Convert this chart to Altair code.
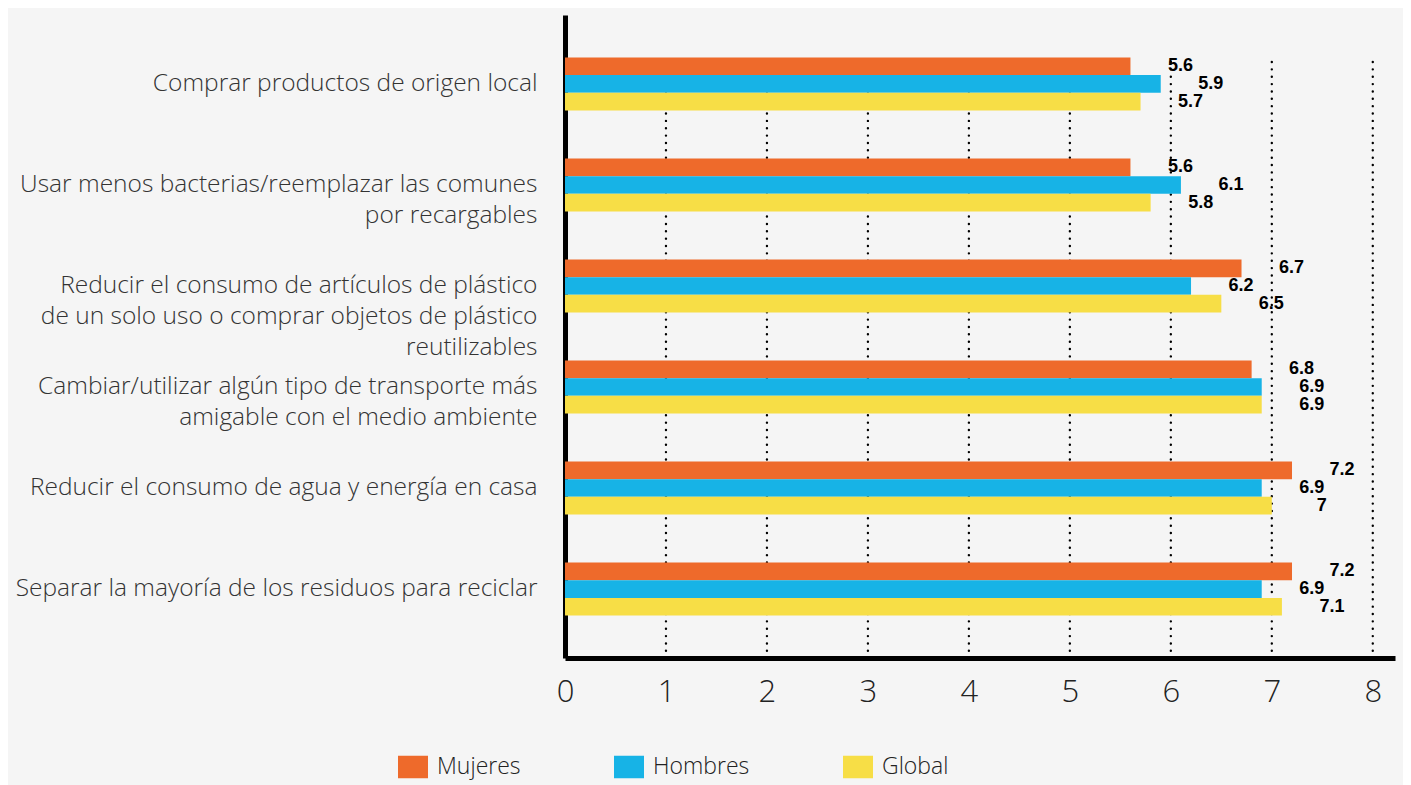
import altair as alt
import pandas as pd

categories = [
    "Comprar productos de origen local",
    "Usar menos bacterias/reemplazar las comunes|por recargables",
    "Reducir el consumo de artículos de plástico|de un solo uso o comprar objetos de plástico|reutilizables",
    "Cambiar/utilizar algún tipo de transporte más|amigable con el medio ambiente",
    "Reducir el consumo de agua y energía en casa",
    "Separar la mayoría de los residuos para reciclar",
]
series = ["Mujeres", "Hombres", "Global"]
mujeres = [5.6, 5.6, 6.7, 6.8, 7.2, 7.2]
hombres = [5.9, 6.1, 6.2, 6.9, 6.9, 6.9]
global_ = [5.7, 5.8, 6.5, 6.9, 7.0, 7.1]
colors = ["#EE6A2B", "#17B3E6", "#F7DE46"]
grid_ticks = [1, 2, 3, 4, 5, 6, 7, 8]
x_ticks = [0, 1, 2, 3, 4, 5, 6, 7, 8]

rows = []
for s, vals in zip(series, [mujeres, hombres, global_]):
    for c, v in zip(categories, vals):
        rows.append({"cat": c, "serie": s, "value": v, "label": f"{v:g}"})
df = pd.DataFrame(rows)
grid_df = pd.DataFrame({"t": grid_ticks})

FONT_LIGHT = "Open Sans"
XMAX = 8.22

x_scale = alt.Scale(domain=[0, XMAX], nice=False, zero=True)
y_scale = alt.Scale(domain=categories, paddingInner=0.475, paddingOuter=0.42)

grid = alt.Chart(grid_df).mark_rule(
    color="black", strokeWidth=2.4, strokeDash=[0.01, 7.35], strokeCap="round"
).encode(
    x=alt.X("t:Q", scale=x_scale),
    y=alt.value(47),
    y2=alt.value(643),
)

base = alt.Chart(df)

bars = base.mark_bar().encode(
    x=alt.X(
        "value:Q",
        scale=x_scale,
        axis=alt.Axis(
            values=x_ticks,
            format="d",
            title=None,
            grid=False,
            ticks=False,
            domain=True,
            domainColor="black",
            domainWidth=5,
            labelFont=FONT_LIGHT,
            labelFontWeight=300,
            labelFontSize=31,
            labelColor="#222222",
            labelPadding=19,
            labelFlush=False,
        ),
    ),
    y=alt.Y(
        "cat:N",
        scale=y_scale,
        sort=categories,
        axis=alt.Axis(
            title=None,
            ticks=False,
            domain=True,
            domainColor="black",
            domainWidth=5,
            labelExpr="split(datum.label, '|')",
            labelFont=FONT_LIGHT,
            labelFontWeight=300,
            labelFontSize=24.5,
            labelColor="#333333",
            labelLineHeight=31,
            labelPadding=28,
            labelLimit=800,
            labelAlign="right",
            labelBaseline="middle",
        ),
    ),
    yOffset=alt.YOffset("serie:N", sort=series),
    color=alt.Color(
        "serie:N",
        sort=series,
        scale=alt.Scale(domain=series, range=colors),
        legend=alt.Legend(
            title=None,
            orient="none",
            direction="horizontal",
            legendX=-167,
            legendY=737,
            symbolType="M-1,-0.75H1V0.75H-1Z",
            symbolSize=900,
            symbolStrokeWidth=0,
            symbolOpacity=1,
            labelFont=FONT_LIGHT,
            labelFontWeight=300,
            labelFontSize=23,
            labelColor="#222222",
            labelOffset=9,
            columnPadding=93,
        ),
    ),
)

texts = base.mark_text(
    font="Liberation Sans", fontWeight="bold", fontSize=18, color="black",
    align="center", baseline="middle", dx=50,
).encode(
    x=alt.X("value:Q", scale=x_scale),
    y=alt.Y("cat:N", scale=y_scale, sort=categories),
    yOffset=alt.YOffset("serie:N", sort=series),
    text="label:N",
)

chart = alt.layer(grid, bars, texts).properties(
    width=830,
    height=643,
    padding={"left": 557, "top": 7, "right": 8, "bottom": 127},
    autosize=alt.AutoSizeParams(type="none"),
    background="#f5f5f5",
).configure_view(stroke=None)

chart.save("out.html", embed_options={"renderer": "svg", "actions": False})
